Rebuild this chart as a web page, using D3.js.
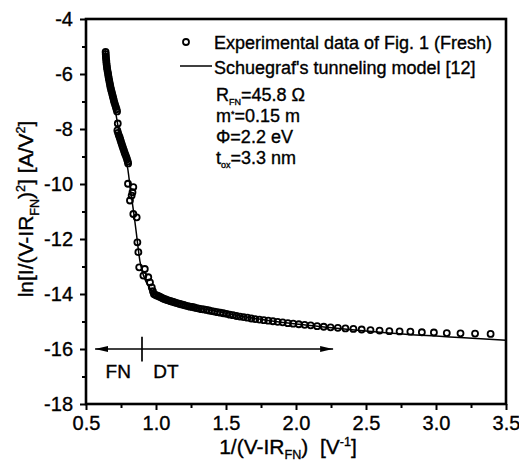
<!DOCTYPE html>
<html>
<head>
<meta charset="utf-8">
<script src="https://cdn.jsdelivr.net/npm/d3@7/dist/d3.min.js"></script>
<style>
  body { margin: 0; background: #fff; }
  svg { display: block; font-family: "Liberation Sans", Arial, sans-serif; }
  svg text { fill: #000; stroke: #000; stroke-width: 0.35px; }
</style>
</head>
<body>
<svg id="chart" width="519" height="466"></svg>
<script>
// Axis ticks
const xMajor = [0.5, 1.0, 1.5, 2.0, 2.5, 3.0, 3.5];
const xMinor = [0.75, 1.25, 1.75, 2.25, 2.75, 3.25];
const yMajor = [-4, -6, -8, -10, -12, -14, -16, -18];
const yMinor = [-5, -7, -9, -11, -13, -15, -17];

// Experimental data, FN region (dense strip at high field, then scattered points)
const fnPoints = [
  [0.640, -5.20], [0.641, -5.28], [0.642, -5.36], [0.643, -5.44], [0.645, -5.52],
  [0.646, -5.60], [0.648, -5.68], [0.650, -5.76], [0.652, -5.84], [0.655, -5.92],
  [0.658, -6.00], [0.660, -6.08], [0.663, -6.16], [0.666, -6.24], [0.669, -6.32],
  [0.672, -6.40], [0.675, -6.48], [0.679, -6.56], [0.683, -6.64], [0.687, -6.72],
  [0.691, -6.80], [0.695, -6.88], [0.699, -6.96], [0.703, -7.04], [0.708, -7.12],
  [0.713, -7.20], [0.718, -7.28], [0.722, -7.36], [0.727, -7.80],
  [0.724, -8.05], [0.729, -8.14], [0.734, -8.22], [0.740, -8.30], [0.745, -8.38],
  [0.750, -8.46], [0.755, -8.54], [0.760, -8.62], [0.765, -8.70], [0.771, -8.78],
  [0.776, -8.86], [0.782, -8.94], [0.788, -9.02], [0.793, -9.10], [0.798, -9.18],
  [0.801, -9.25],
  [0.800, -9.99], [0.838, -10.11], [0.832, -10.30], [0.826, -10.42], [0.814, -10.60],
  [0.838, -11.09], [0.862, -11.21], [0.867, -12.12], [0.874, -12.48], [0.880, -13.03],
  [0.920, -13.09], [0.910, -13.33], [0.945, -13.39], [0.957, -13.58], [0.970, -13.76],
  [0.978, -13.90]
];

// Experimental data, DT region
const dtPoints = [
  [3.390, -15.45], [3.279, -15.44], [3.175, -15.43], [3.077, -15.42], [2.985, -15.40],
  [2.899, -15.39], [2.817, -15.37], [2.740, -15.36], [2.667, -15.35], [2.597, -15.33],
  [2.532, -15.31], [2.469, -15.29], [2.410, -15.27], [2.353, -15.25], [2.299, -15.23],
  [2.247, -15.21], [2.198, -15.19], [2.151, -15.17], [2.105, -15.14], [2.062, -15.12],
  [2.020, -15.10], [1.980, -15.08], [1.942, -15.06], [1.905, -15.03], [1.869, -15.01],
  [1.835, -14.99], [1.802, -14.97], [1.770, -14.95], [1.739, -14.93], [1.709, -14.91],
  [1.681, -14.89], [1.653, -14.86], [1.626, -14.84], [1.600, -14.82], [1.575, -14.80],
  [1.550, -14.77], [1.527, -14.75], [1.504, -14.72], [1.481, -14.70], [1.460, -14.68],
  [1.439, -14.66], [1.418, -14.64], [1.399, -14.62], [1.379, -14.60], [1.361, -14.58],
  [1.342, -14.56], [1.325, -14.55], [1.307, -14.53], [1.290, -14.51], [1.274, -14.49],
  [1.258, -14.47], [1.242, -14.46], [1.227, -14.44], [1.212, -14.42], [1.198, -14.40],
  [1.183, -14.38], [1.170, -14.36], [1.156, -14.34], [1.143, -14.32], [1.130, -14.30],
  [1.117, -14.28], [1.105, -14.26], [1.093, -14.24], [1.081, -14.22], [1.070, -14.20],
  [1.058, -14.18], [1.047, -14.15], [1.036, -14.12], [1.026, -14.10], [1.015, -14.07],
  [1.005, -14.05], [0.995, -14.03], [0.985, -14.00]
];

// Schuegraf's tunneling model curve
const modelCurve = [
  [0.636, -5.10], [0.650, -5.75], [0.665, -6.25], [0.685, -6.75], [0.705, -7.20],
  [0.722, -7.70], [0.740, -8.25], [0.760, -8.65], [0.780, -8.95], [0.800, -9.50],
  [0.815, -10.10], [0.830, -10.65], [0.845, -11.20], [0.860, -11.80], [0.873, -12.35],
  [0.885, -12.80], [0.900, -13.15], [0.920, -13.45], [0.945, -13.70], [0.970, -13.88],
  [1.000, -14.03], [1.050, -14.14], [1.100, -14.23], [1.200, -14.38], [1.300, -14.50],
  [1.400, -14.60], [1.600, -14.80], [1.800, -14.96], [2.000, -15.09], [2.200, -15.20],
  [2.400, -15.30], [2.600, -15.39], [2.800, -15.47], [3.000, -15.53], [3.200, -15.59],
  [3.500, -15.68]
];

const legendLabels = ['Experimental data of Fig. 1 (Fresh)', "Schuegraf's tunneling model [12]"];
const paramLines = [
  [['R', 'n'], ['FN', 'sub'], ['=45.8 Ω', 'n']],
  [['m', 'n'], ['*', 'sup'], ['=0.15 m', 'n']],
  [['Φ=2.2 eV', 'n']],
  [['t', 'n'], ['ox', 'sub'], ['=3.3 nm', 'n']]
];

const svg = d3.select('#chart');
const plotL = 86, plotR = 506, plotT = 19, plotB = 404;

const x = d3.scaleLinear().domain([0.5, 3.5]).range([plotL, plotR]);
const y = d3.scaleLinear().domain([-18, -4]).range([plotB, plotT]);

// Writes text with sub/superscripts using tspans
const rich = (textSel, parts, fs, sub = 0.3, sup = 0.4, small = 0.6) => {
  let cur = 0;
  parts.forEach(([t, k]) => {
    const target = k === 'sub' ? fs * sub : k === 'sup' ? -fs * sup : 0;
    textSel.append('tspan')
      .attr('dy', target - cur)
      .attr('font-size', k === 'n' ? fs : fs * small)
      .text(t);
    cur = target;
  });
};

// Axes
const styleAxis = (g) => {
  g.select('.domain').remove();
  g.selectAll('line').attr('stroke', '#000').attr('stroke-width', 2);
  g.selectAll('text').attr('fill', '#000').attr('font-size', 20)
    .attr('font-family', '"Liberation Sans", Arial, sans-serif');
};

svg.append('g')
  .attr('transform', `translate(0,${plotB})`)
  .call(d3.axisBottom(x).tickValues(xMinor).tickSize(4).tickFormat(''))
  .call(styleAxis);
svg.append('g')
  .attr('transform', `translate(0,${plotB})`)
  .call(d3.axisBottom(x).tickValues(xMajor).tickSize(6).tickPadding(6).tickFormat(d3.format('.1f')))
  .call(styleAxis);
svg.append('g')
  .attr('transform', `translate(${plotL},0)`)
  .call(d3.axisLeft(y).tickValues(yMinor).tickSize(4).tickFormat(''))
  .call(styleAxis);
svg.append('g')
  .attr('transform', `translate(${plotL},0)`)
  .call(d3.axisLeft(y).tickValues(yMajor).tickSize(6).tickPadding(7).tickFormat((d) => String(d)))
  .call(styleAxis);

// Frame
svg.append('rect')
  .attr('x', plotL).attr('y', plotT)
  .attr('width', plotR - plotL).attr('height', plotB - plotT)
  .attr('fill', 'none').attr('stroke', '#000').attr('stroke-width', 2.6);

// Model line
const line = d3.line().x((d) => x(d[0])).y((d) => y(d[1])).curve(d3.curveMonotoneX);
svg.append('path')
  .datum(modelCurve)
  .attr('d', line)
  .attr('fill', 'none').attr('stroke', '#000').attr('stroke-width', 1.5);

// Experimental circles
svg.append('g')
  .selectAll('circle')
  .data(fnPoints.concat(dtPoints))
  .join('circle')
  .attr('cx', (d) => x(d[0]))
  .attr('cy', (d) => y(d[1]))
  .attr('r', 3.0)
  .attr('fill', 'none').attr('stroke', '#000').attr('stroke-width', 1.8);

// FN / DT arrow
const defs = svg.append('defs');
defs.append('marker')
  .attr('id', 'head')
  .attr('viewBox', '0 0 13 6')
  .attr('refX', 13).attr('refY', 3)
  .attr('markerWidth', 13).attr('markerHeight', 6)
  .attr('markerUnits', 'userSpaceOnUse')
  .attr('orient', 'auto-start-reverse')
  .append('path').attr('d', 'M0,0L13,3L0,6Z').attr('fill', '#000');

svg.append('line')
  .attr('x1', x(0.565)).attr('x2', x(2.265))
  .attr('y1', y(-16)).attr('y2', y(-16))
  .attr('stroke', '#000').attr('stroke-width', 1.7)
  .attr('marker-start', 'url(#head)').attr('marker-end', 'url(#head)');
svg.append('line')
  .attr('x1', x(0.9)).attr('x2', x(0.9))
  .attr('y1', y(-15.55)).attr('y2', y(-16.45))
  .attr('stroke', '#000').attr('stroke-width', 1.7);
svg.append('text').attr('x', x(0.64)).attr('y', y(-17.05)).attr('font-size', 19).text('FN');
svg.append('text').attr('x', x(0.98)).attr('y', y(-17.05)).attr('font-size', 19).text('DT');

// Legend
svg.append('circle')
  .attr('cx', 186).attr('cy', 42).attr('r', 3.0)
  .attr('fill', 'none').attr('stroke', '#000').attr('stroke-width', 1.8);
svg.append('line')
  .attr('x1', 180).attr('x2', 212).attr('y1', 66).attr('y2', 66)
  .attr('stroke', '#000').attr('stroke-width', 1.5);
svg.selectAll('.leg')
  .data(legendLabels)
  .join('text')
  .attr('class', 'leg')
  .attr('x', 214)
  .attr('y', (d, i) => 49 + i * 25)
  .attr('font-size', 18)
  .text((d) => d);

paramLines.forEach((parts, i) => {
  const t = svg.append('text')
    .attr('x', 216).attr('y', 101 + i * 21)
    .style('white-space', 'pre');
  rich(t, parts, 18, 0.22, 0.3, 0.5);
});

// Axis titles
const xt = svg.append('text')
  .attr('x', 288).attr('y', 454)
  .attr('text-anchor', 'middle')
  .style('white-space', 'pre');
rich(xt, [['1/(V-IR', 'n'], ['FN', 'sub'], [')  [V', 'n'], ['-1', 'sup'], [']', 'n']], 21, 0.25, 0.4, 0.6);

const yt = svg.append('text')
  .attr('transform', 'translate(33,209) rotate(-90)')
  .attr('text-anchor', 'middle')
  .style('white-space', 'pre');
rich(yt, [['ln[I/(V-IR', 'n'], ['FN', 'sub'], [')', 'n'], ['2', 'sup'], ['] [A/V', 'n'], ['2', 'sup'], [']', 'n']], 21, 0.3, 0.4, 0.6);
</script>
</body>
</html>
